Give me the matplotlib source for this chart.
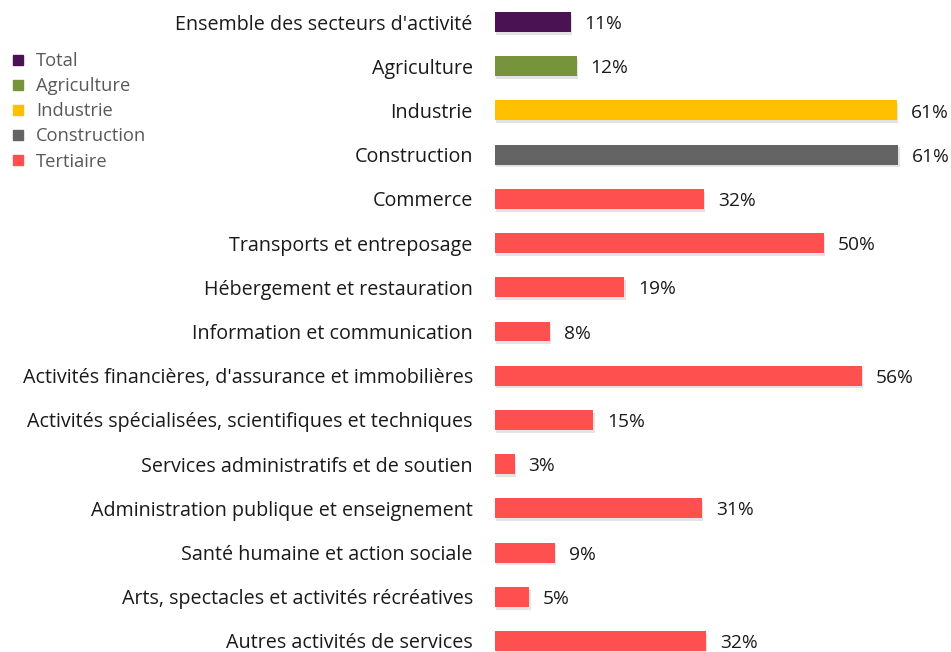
import matplotlib
matplotlib.use("Agg")
import matplotlib.pyplot as plt
import matplotlib.patheffects as pe
from matplotlib.lines import Line2D

categories = [
    "Ensemble des secteurs d'activité",
    "Agriculture",
    "Industrie",
    "Construction",
    "Commerce",
    "Transports et entreposage",
    "Hébergement et restauration",
    "Information et communication",
    "Activités financières, d'assurance et immobilières",
    "Activités spécialisées, scientifiques et techniques",
    "Services administratifs et de soutien",
    "Administration publique et enseignement",
    "Santé humaine et action sociale",
    "Arts, spectacles et activités récréatives",
    "Autres activités de services",
]
values = [11.5, 12.4, 61.0, 61.2, 31.7, 49.9, 19.6, 8.3, 55.7, 14.9, 3.0, 31.4, 9.1, 5.2, 32.0]
value_labels = ["11%", "12%", "61%", "61%", "32%", "50%", "19%", "8%", "56%", "15%", "3%", "31%", "9%", "5%", "32%"]
groups = ["Total", "Agriculture", "Industrie", "Construction"] + ["Tertiaire"] * 11
legend_names = ["Total", "Agriculture", "Industrie", "Construction", "Tertiaire"]
group_colors = {
    "Total": "#4a1252",
    "Agriculture": "#77933c",
    "Industrie": "#ffc000",
    "Construction": "#646464",
    "Tertiaire": "#ff5050",
}

plt.rcParams['font.family'] = ['Open Sans', 'DejaVu Sans']

W, H = 951, 652
fig = plt.figure(figsize=(W / 100, H / 100), dpi=100)
x0 = 495
ax = fig.add_axes([x0 / W, 0, 1 - x0 / W, 1])
px_per_unit = 6.59
row = 44.21
n = len(categories)
ax.set_xlim(0, (W - x0) / px_per_unit)
ax.set_ylim(n - 1 + (H - 641) / row, -22 / row)

ypos = list(range(n))
bars = ax.barh(ypos, values, height=0.45,
               color=[group_colors[g] for g in groups], zorder=3)
for b in bars:
    b.set_path_effects([pe.SimplePatchShadow(offset=(1, -2), shadow_rgbFace='#909090', alpha=0.25),
                        pe.Normal()])

for y, v, lab in zip(ypos, values, value_labels):
    ax.annotate(lab, (v, y), xytext=(10, -1.5), textcoords='offset points',
                va='center', ha='left', fontsize=13.8, color='#1a1a1a')

ax.set_yticks(ypos)
ax.set_yticklabels(categories, fontsize=14.2, color='#1a1a1a')
ax.tick_params(axis='y', length=0, pad=16)
ax.set_xticks([])
for s in ax.spines.values():
    s.set_visible(False)

handles = [Line2D([], [], marker='s', linestyle='none', markersize=7,
                  markerfacecolor=group_colors[g], markeredgecolor=group_colors[g])
           for g in legend_names]
leg = fig.legend(handles, legend_names, loc='upper left', bbox_to_anchor=(10.5 / W, 1 - 52 / H),
                 frameon=False, fontsize=13.2, handlelength=0.8, handletextpad=0.6,
                 labelspacing=0.39, borderaxespad=0.0, borderpad=0.0)
for t in leg.get_texts():
    t.set_color('#595959')

fig.savefig("out.png", dpi=100)
